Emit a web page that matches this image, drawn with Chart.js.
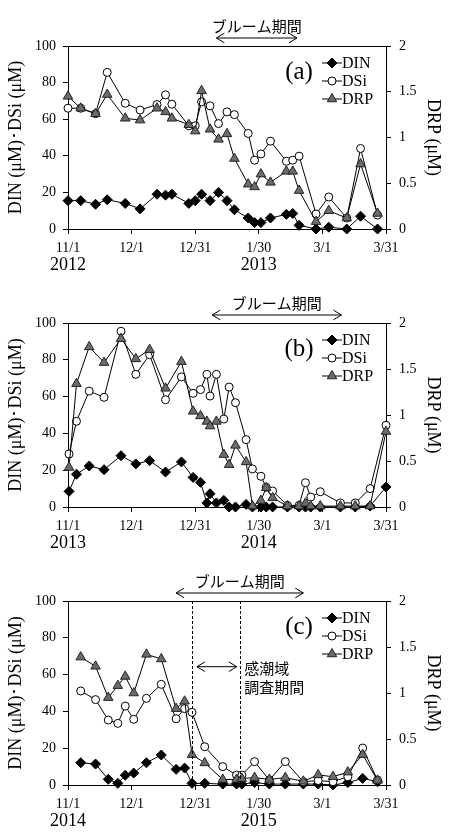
<!DOCTYPE html>
<html>
<head>
<meta charset="utf-8">
<script src="https://cdn.jsdelivr.net/npm/chart.js@4.4.0/dist/chart.umd.min.js"></script>
<style>
  body { margin: 0; background: #fff; }
  canvas { display: block; }
</style>
</head>
<body>
<canvas id="chartA" width="451" height="280"></canvas>
<canvas id="chartB" width="451" height="280"></canvas>
<canvas id="chartC" width="451" height="280"></canvas>
<script>
// x axis = days counted from 11/1
const tickDays = [0, 30, 60, 90, 120, 150];
const tickDates = ['11/1', '12/1', '12/31', '1/30', '3/1', '3/31'];
const bloomText = 'ブルーム期間';

// (a) 2012-2013
const yearsA = ['2012', '2013'];
const daysA = [0, 6, 13, 18.5, 27, 34, 42, 46, 49, 57, 60, 63, 67, 71, 75, 78.5, 85, 88, 91, 95.5, 103, 106, 109, 117, 123, 131.5, 138, 146];
const dinA = [15.5, 15.5, 13.5, 16, 14, 11, 19, 18.5, 19, 14, 15.5, 19, 15.5, 20, 15.5, 10.5, 6, 3.5, 3.5, 6, 8, 8.5, 2, 0, 1, 0, 7, 0];
const dsiA = [66, 66, 63, 85.6, 68.7, 65, 68, 73.3, 68.2, 56.4, 56.4, 69.5, 67.3, 57.6, 64, 62.5, 52.2, 37.6, 41, 48, 37, 37.6, 39.8, 8.2, 17.5, 6, 44, 7.6];
const drpA = [1.45, 1.32, 1.26, 1.47, 1.21, 1.19, 1.32, 1.28, 1.21, 1.14, 1.07, 1.51, 1.09, 0.98, 1.04, 0.77, 0.49, 0.46, 0.6, 0.51, 0.63, 0.63, 0.42, 0.08, 0.2, 0.12, 0.71, 0.17];
const bloomA = [70, 108];

// (b) 2013-2014
const yearsB = ['2013', '2014'];
const daysB = [0.5, 4, 10, 17, 25, 32, 38.5, 46, 53.5, 59, 62.5, 65.5, 67, 70, 73.5, 76, 79, 84, 87, 91, 93.5, 96.5, 103.5, 109, 112, 114.5, 119, 128.5, 135.5, 142.5, 150];
const dinB = [8.5, 17.8, 22.3, 20.3, 27.9, 23.4, 25.2, 19, 24.5, 16.1, 13.4, 2.2, 7.2, 2.2, 3.6, 0, 0, 1.4, 0, 0, 0, 0, 0, 0, 0, 0, 0, 0, 0, 0.5, 10.9];
const dsiB = [28.8, 46.6, 63, 59.6, 95.5, 72.1, 82.8, 58.3, 70.7, 61.8, 63.8, 72.1, 60.3, 72.1, 47.8, 65.2, 56.7, 36.6, 20.7, 16.7, 10.7, 8.7, 0.9, 0.9, 13.2, 5.4, 8.3, 2.2, 2.2, 10, 44.4];
const drpB = [0.43, 1.34, 1.74, 1.57, 1.83, 1.61, 1.71, 1.29, 1.58, 1.04, 0.99, 0.93, 0.88, 0.93, 0.57, 0.46, 0.67, 0.49, 0.01, 0.07, 0.21, 0.1, 0.01, 0.01, 0.04, 0.01, 0.01, 0.01, 0.01, 0.01, 0.82];
const bloomB = [68, 129];

// (c) 2014-2015
const yearsC = ['2014', '2015'];
const daysC = [6, 13, 19, 23.5, 27, 31, 37, 44, 51, 55, 58.5, 64.5, 73, 79.5, 82, 88, 95, 102.5, 111, 118, 125, 132, 139, 146];
const dinC = [12.1, 11.4, 3.1, 0.9, 5.3, 6.5, 12.1, 16.3, 8.5, 9.2, 0.9, 0.9, 0.5, 0.5, 0.5, 1.3, 0.5, 0.5, 0.5, 0.5, 0, 1.3, 3.6, 1.8];
const dsiC = [51.1, 46.4, 35.3, 33.5, 42.9, 35.7, 47.1, 54.7, 36, 41.5, 39.5, 20.8, 10, 5.4, 5.4, 12.7, 2.7, 12.7, 1.8, 2.4, 1.8, 4.5, 20.1, 2.7];
const drpC = [1.39, 1.29, 0.95, 1.08, 1.18, 1.0, 1.42, 1.37, 0.83, 0.91, 0.33, 0.24, 0.06, 0.06, 0.07, 0.08, 0.06, 0.08, 0.04, 0.11, 0.09, 0.14, 0.33, 0.05];
const bloomC = [51, 111];
const surveyLines = [58.6, 81.3];
const surveyArrow = [60.8, 79.6];
const surveyArrowY = 64.3;
const surveyText = ['感潮域', '調査期間'];
const surveyTextY = [63.6, 53.3];

const SERIF = '"Liberation Serif", "Times New Roman", serif';
const JP = '"Noto Sans CJK JP", sans-serif';

function arrow(ctx, x1, x2, y, h) {
  ctx.beginPath();
  ctx.moveTo(x1, y); ctx.lineTo(x2, y);
  ctx.moveTo(x1 + h, y - h * 0.6); ctx.lineTo(x1, y); ctx.lineTo(x1 + h, y + h * 0.6);
  ctx.moveTo(x2 - h, y - h * 0.6); ctx.lineTo(x2, y); ctx.lineTo(x2 - h, y + h * 0.6);
  ctx.stroke();
}

// frame top, legend, panel letter, years, bloom arrow and notes
const extras = {
  id: 'extras',
  afterDraw(chart) {
    const o = chart.options.plugins.extras;
    const ctx = chart.ctx;
    const a = chart.chartArea;
    const xs = chart.scales.x, ys = chart.scales.y;
    ctx.save();
    ctx.strokeStyle = '#000';
    ctx.lineWidth = 1;
    ctx.beginPath();
    ctx.moveTo(a.left, Math.round(a.top) + 0.5);
    ctx.lineTo(a.right, Math.round(a.top) + 0.5);
    ctx.stroke();

    // years under the date ticks
    ctx.fillStyle = '#000';
    ctx.font = '18px ' + SERIF;
    ctx.textAlign = 'center';
    ctx.textBaseline = 'middle';
    ctx.fillText(o.years[0], xs.getPixelForValue(tickDays[0]), a.bottom + 36.5);
    ctx.fillText(o.years[1], xs.getPixelForValue(tickDays[3]), a.bottom + 36.5);

    // bloom period
    const b1 = xs.getPixelForValue(o.bloom[0]), b2 = xs.getPixelForValue(o.bloom[1]);
    arrow(ctx, b1, b2, a.top - 8, 8);
    ctx.font = '15px ' + JP;
    ctx.fillText(bloomText, (b1 + b2) / 2, a.top - 20);

    // panel letter
    ctx.font = '25px ' + SERIF;
    ctx.fillText(o.letter, a.right - 87, a.top + 26);

    // legend
    const names = ['DIN', 'DSi', 'DRP'];
    const styles = [
      { s: 'rectRot', r: 5, bg: '#000', bd: '#000' },
      { s: 'circle', r: 4, bg: '#fff', bd: '#000' },
      { s: 'triangle', r: 5.5, bg: '#6b6b6b', bd: '#222' }
    ];
    ctx.font = '16px ' + SERIF;
    ctx.textAlign = 'left';
    names.forEach((n, i) => {
      const ly = a.top + 17 + i * 18;
      const mx = a.right - 54;
      ctx.beginPath();
      ctx.moveTo(mx - 10, ly); ctx.lineTo(mx + 10, ly);
      ctx.stroke();
      ctx.fillStyle = styles[i].bg;
      ctx.strokeStyle = styles[i].bd;
      Chart.helpers.drawPoint(ctx, { pointStyle: styles[i].s, radius: styles[i].r, borderWidth: 1 }, mx, ly);
      ctx.fillStyle = '#000';
      ctx.strokeStyle = '#000';
      ctx.fillText(n, mx + 10, ly + 1);
    });

    if (o.survey) {
      ctx.setLineDash([3, 2]);
      surveyLines.forEach(d => {
        const px = Math.round(xs.getPixelForValue(d)) + 0.5;
        ctx.beginPath();
        ctx.moveTo(px, a.top); ctx.lineTo(px, a.bottom);
        ctx.stroke();
      });
      ctx.setLineDash([]);
      arrow(ctx, xs.getPixelForValue(surveyArrow[0]), xs.getPixelForValue(surveyArrow[1]), ys.getPixelForValue(surveyArrowY), 8);
      ctx.font = '15px ' + JP;
      ctx.textAlign = 'left';
      surveyText.forEach((t, i) => {
        ctx.fillText(t, xs.getPixelForValue(surveyLines[1]) + 4, ys.getPixelForValue(surveyTextY[i]));
      });
    }
    ctx.restore();
  }
};

function makePanel(id, days, din, dsi, drp, opts) {
  const pts = (vals) => days.map((d, i) => ({ x: d, y: vals[i] }));
  const base = { borderColor: '#000', borderWidth: 1, tension: 0, clip: false, pointBorderWidth: 1, pointBorderColor: '#000' };
  new Chart(document.getElementById(id), {
    type: 'line',
    data: {
      datasets: [
        Object.assign({}, base, { label: 'DRP', data: pts(drp), yAxisID: 'y2', pointStyle: 'triangle', pointRadius: 5.5,
          pointBackgroundColor: '#6b6b6b', pointBorderColor: '#222' }),
        Object.assign({}, base, { label: 'DSi', data: pts(dsi), yAxisID: 'y', pointStyle: 'circle', pointRadius: 4,
          pointBackgroundColor: '#fff' }),
        Object.assign({}, base, { label: 'DIN', data: pts(din), yAxisID: 'y', pointStyle: 'rectRot', pointRadius: 5,
          pointBackgroundColor: '#000' })
      ]
    },
    options: {
      responsive: false,
      animation: false,
      layout: { padding: { top: opts.top, left: 0, right: 0, bottom: 0 } },
      plugins: {
        legend: { display: false },
        tooltip: { enabled: false },
        extras: opts
      },
      scales: {
        x: {
          type: 'linear', min: 0, max: 150,
          afterBuildTicks: s => { s.ticks = tickDays.map(v => ({ value: v })); },
          afterFit: s => { s.height = opts.xh; },
          grid: { drawOnChartArea: false, tickLength: 5, color: '#000' },
          border: { color: '#000', width: 1 },
          ticks: { color: '#000', font: { family: SERIF, size: 14 }, padding: 6, maxRotation: 0, autoSkip: false,
            callback: v => tickDates[tickDays.indexOf(v)] }
        },
        y: {
          position: 'left', min: 0, max: 100,
          afterFit: s => { s.width = 68; },
          grid: { drawOnChartArea: false, tickLength: 5, color: '#000' },
          border: { color: '#000', width: 1 },
          ticks: { stepSize: 20, color: '#000', font: { family: SERIF, size: 14 }, padding: 7 },
          title: { display: true, text: 'DIN (μM)･DSi (μM)', color: '#000', font: { family: SERIF, size: 18 }, padding: { top: 5, bottom: 0 } }
        },
        y2: {
          position: 'right', min: 0, max: 2,
          afterFit: s => { s.width = 65; },
          grid: { drawOnChartArea: false, tickLength: 5, color: '#000' },
          border: { color: '#000', width: 1 },
          ticks: { stepSize: 0.5, color: '#000', font: { family: SERIF, size: 14 }, padding: 8, callback: v => String(v) },
          title: { display: true, text: 'DRP (μM)', color: '#000', font: { family: SERIF, size: 18 }, padding: { top: 7, bottom: 0 } }
        }
      }
    },
    plugins: [extras]
  });
}

makePanel('chartA', daysA, dinA, dsiA, drpA, { letter: '(a)', years: yearsA, bloom: bloomA, top: 46, xh: 51 });
makePanel('chartB', daysB, dinB, dsiB, drpB, { letter: '(b)', years: yearsB, bloom: bloomB, top: 43, xh: 53 });
makePanel('chartC', daysC, dinC, dsiC, drpC, { letter: '(c)', years: yearsC, bloom: bloomC, top: 41, xh: 55, survey: true });
</script>
</body>
</html>
